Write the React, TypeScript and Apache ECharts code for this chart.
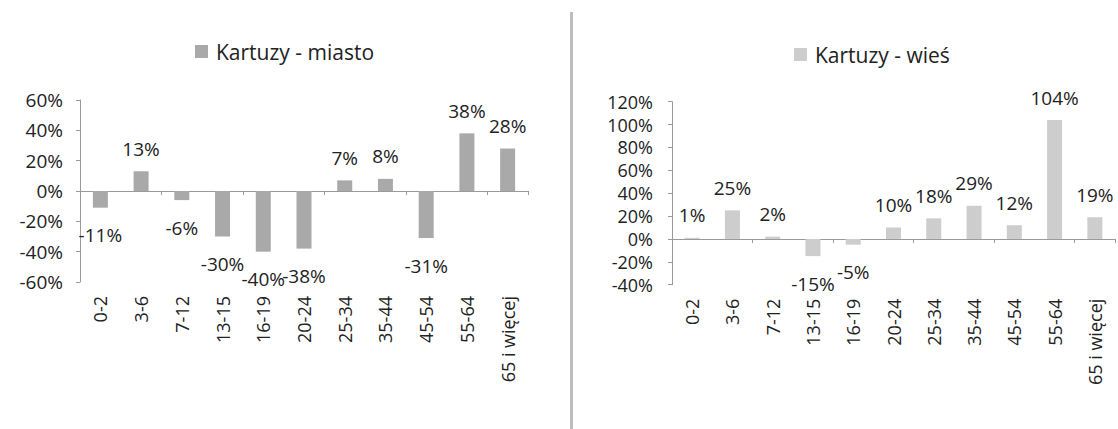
import React, { useEffect, useRef } from "react";
import * as echarts from "echarts";

const categories = ["0-2", "3-6", "7-12", "13-15", "16-19", "20-24", "25-34", "35-44", "45-54", "55-64", "65 i więcej"];
const miastoName = "Kartuzy - miasto";
const wiesName = "Kartuzy - wieś";
const miastoValues = [-11, 13, -6, -30, -40, -38, 7, 8, -31, 38, 28];
const wiesValues = [1, 25, 2, -15, -5, 10, 18, 29, 12, 104, 19];
const miastoAxis = { min: -60, max: 60, interval: 20 };
const wiesAxis = { min: -40, max: 120, interval: 20 };

const FONT = "'Open Sans', sans-serif";
const TEXT = "#222";
const AXIS = "#9a9a9a";

function barData(values: number[]) {
  return values.map((v) => ({
    value: v,
    label: { position: v < 0 ? "bottom" : "top", distance: v < 0 ? 18 : 13 },
  }));
}

function xAxes(gridIndex: number) {
  return [
    {
      gridIndex,
      type: "category",
      data: categories,
      position: "top",
      axisLine: { show: true, onZero: true, lineStyle: { color: AXIS, width: 1 } },
      axisTick: { show: true, inside: true, length: 4, lineStyle: { color: AXIS } },
      axisLabel: { show: false },
      splitLine: { show: false },
    },
    {
      gridIndex,
      type: "category",
      data: categories,
      position: "bottom",
      axisLine: { show: false, onZero: false },
      axisTick: { show: false },
      axisLabel: { show: true, rotate: 90, fontSize: 18, fontFamily: FONT, color: TEXT, margin: 14, interval: 0 },
      splitLine: { show: false },
    },
  ];
}

function yAxis(gridIndex: number, r: { min: number; max: number; interval: number }, margin: number, fontSize: number) {
  return {
    gridIndex,
    type: "value",
    min: r.min,
    max: r.max,
    interval: r.interval,
    axisLine: { show: true, lineStyle: { color: AXIS, width: 1 } },
    axisTick: { show: true, length: 4, lineStyle: { color: AXIS } },
    axisLabel: { formatter: "{value}%", fontSize, lineHeight: fontSize, fontFamily: FONT, color: TEXT, margin },
    splitLine: { show: false },
  };
}

export default function App() {
  const ref = useRef<HTMLDivElement>(null);
  useEffect(() => {
    document.body.style.margin = "0";
    const chart = echarts.init(ref.current!, undefined, { renderer: "svg" });
    const labelStyle = { show: true, formatter: "{c}%", fontSize: 19, fontFamily: FONT, color: TEXT };
    chart.setOption({
      animation: false,
      backgroundColor: "#fff",
      legend: [
        {
          data: [miastoName],
          left: 190,
          top: 36,
          itemWidth: 13,
          itemHeight: 13,
          icon: "rect",
          textStyle: { fontSize: 21, fontFamily: FONT, color: TEXT, padding: [0, 0, 0, 3] },
        },
        {
          data: [wiesName],
          left: 789,
          top: 39,
          itemWidth: 13,
          itemHeight: 13,
          icon: "rect",
          textStyle: { fontSize: 21, fontFamily: FONT, color: TEXT, padding: [0, 0, 0, 3] },
        },
      ],
      grid: [
        { left: 80, top: 100, width: 448, height: 182 },
        { left: 672, top: 101.7, width: 443, height: 183 },
      ],
      xAxis: [...xAxes(0), ...xAxes(1)],
      yAxis: [yAxis(0, miastoAxis, 17, 19), yAxis(1, wiesAxis, 19, 18)],
      series: [
        {
          name: miastoName,
          type: "bar",
          xAxisIndex: 0,
          yAxisIndex: 0,
          barWidth: 15,
          itemStyle: { color: "#a9a9a9" },
          label: labelStyle,
          data: barData(miastoValues),
        },
        {
          name: wiesName,
          type: "bar",
          xAxisIndex: 2,
          yAxisIndex: 1,
          barWidth: 15,
          itemStyle: { color: "#cdcdcd" },
          label: labelStyle,
          data: barData(wiesValues),
        },
      ],
      graphic: [
        {
          type: "rect",
          shape: { x: 570, y: 12, width: 3, height: 420 },
          style: { fill: "#bdbdbd" },
          silent: true,
        },
      ],
    });
    return () => chart.dispose();
  }, []);
  return <div ref={ref} style={{ width: 1118, height: 429 }} />;
}
